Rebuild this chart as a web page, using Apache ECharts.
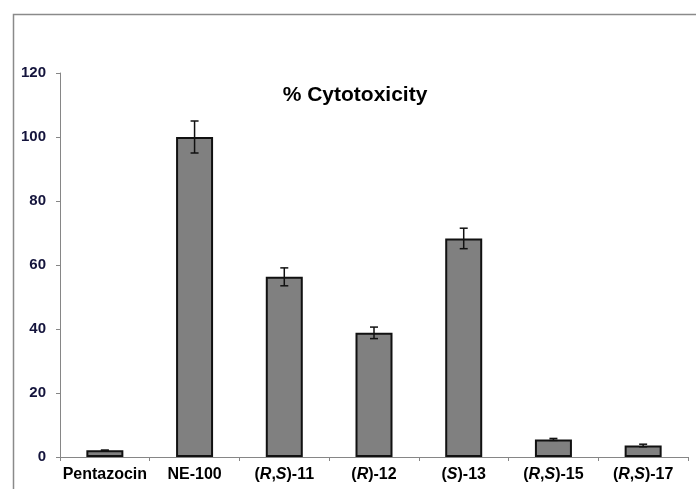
<!DOCTYPE html>
<html>
<head>
<meta charset="utf-8">
<script src="https://cdn.jsdelivr.net/npm/echarts@6/dist/echarts.min.js"></script>
<style>html,body{margin:0;padding:0;background:#fff}#c{width:696px;height:489px}</style>
</head>
<body>
<div id="c"></div>
<script>
var categories = ['Pentazocin', 'NE-100', '(R,S)-11', '(R)-12', '(S)-13', '(R,S)-15', '(R,S)-17'];
var values = [2.1, 100, 56.3, 38.8, 68.3, 5.5, 3.6];
var errors = [0, 5, 2.8, 1.8, 3.2, 0.3, 0.4];
var yTicks = [0, 20, 40, 60, 80, 100, 120];

var chart = echarts.init(document.getElementById('c'));
var errData = values.map(function (v, i) { return [i, v - errors[i], v + errors[i]]; });

function fmtCat(s) {
  return s.replace(/\(([^)]*)\)/, function (m, inner) {
    return '(' + inner.split(',').map(function (t) { return '{i|' + t + '}'; }).join(',') + ')';
  });
}

chart.setOption({
  animation: false,
  graphic: [{
    type: 'rect', left: 11, top: 12,
    shape: { width: 720, height: 520 },
    style: { fill: 'none', stroke: '#8a8a8a', lineWidth: 1.5 }
  }],
  title: {
    text: '% Cytotoxicity', left: 350, top: 80, textAlign: 'center',
    textStyle: { fontFamily: 'Liberation Sans, Arial', fontWeight: 'bold', fontSize: 21, color: '#000' }
  },
  grid: { left: 60, right: 8, top: 73, bottom: 32 },
  xAxis: {
    type: 'category', data: categories,
    axisLine: { lineStyle: { color: '#868686', width: 1 } },
    axisTick: { show: true, length: 4, alignWithLabel: false, lineStyle: { color: '#868686' } },
    axisLabel: {
      interval: 0, margin: 10, formatter: fmtCat,
      fontFamily: 'Liberation Sans, Arial', fontWeight: 'bold', fontSize: 16, color: '#000',
      rich: { i: { fontStyle: 'italic', fontWeight: 'bold', fontFamily: 'Liberation Sans, Arial', fontSize: 16, color: '#000' } }
    }
  },
  yAxis: {
    type: 'value', min: 0, max: 120, interval: 20,
    splitLine: { show: false },
    axisLine: { show: true, lineStyle: { color: '#868686', width: 1 } },
    axisTick: { show: true, length: 4, lineStyle: { color: '#868686' } },
    axisLabel: {
      margin: 14,
      formatter: function (v) { return yTicks.indexOf(v) >= 0 ? String(v) : ''; },
      fontFamily: 'Liberation Sans, Arial', fontWeight: 'bold', fontSize: 15, color: '#14143c'
    }
  },
  series: [{
    type: 'bar', data: values, barWidth: 37,
    itemStyle: { color: '#808080', borderColor: '#111', borderWidth: 2 }
  }, {
    type: 'custom', data: errData, z: 10,
    renderItem: function (params, api) {
      var i = api.value(0);
      var lo = api.coord([i, api.value(1)]);
      var hi = api.coord([i, api.value(2)]);
      var cw = 4;
      var st = { stroke: '#111', lineWidth: 1.5 };
      return {
        type: 'group', children: [
          { type: 'line', shape: { x1: lo[0], y1: lo[1], x2: hi[0], y2: hi[1] }, style: st },
          { type: 'line', shape: { x1: lo[0] - cw, y1: lo[1], x2: lo[0] + cw, y2: lo[1] }, style: st },
          { type: 'line', shape: { x1: hi[0] - cw, y1: hi[1], x2: hi[0] + cw, y2: hi[1] }, style: st }
        ]
      };
    }
  }]
});
</script>
</body>
</html>
